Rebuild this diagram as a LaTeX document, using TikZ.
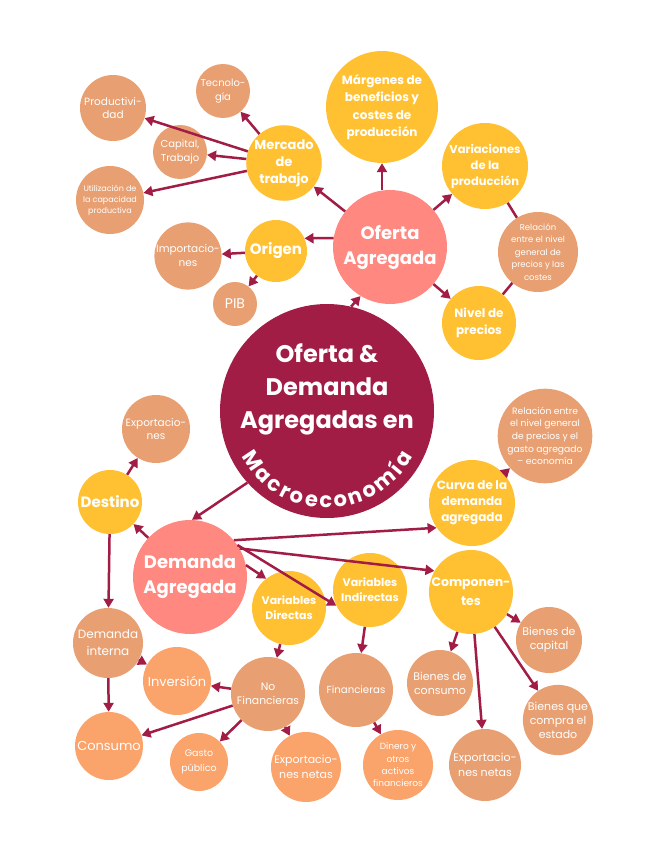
\documentclass[tikz,border=0pt]{standalone}
\usepackage{fontspec}
\setmainfont{Poppins}
\usepackage{xcolor}
\definecolor{vino}{HTML}{A11D45}
\definecolor{salmon}{HTML}{FF8880}
\definecolor{ambar}{HTML}{FFC132}
\definecolor{canela}{HTML}{E8A072}
\definecolor{melocoton}{HTML}{FAA36B}
\usetikzlibrary{arrows.meta, decorations.text}
\newcommand{\tam}[2]{\fontsize{#1}{#2}\selectfont}

\begin{document}
\begin{tikzpicture}[x=1pt, y=-1pt,
    bola/.style={circle, inner sep=0pt, align=center, text=white,
                 minimum size=2*#1},
    negrita/.style 2 args={font=\bfseries\tam{#1}{#2}},
    fina/.style 2 args={font=\tam{#1}{#2}},
    flecha/.style={draw=vino, line width=2.5pt,
                   -{Triangle[length=9pt, width=10pt]}},
    enlace/.style={draw=vino, line width=2.5pt}]
  \fill[white] (0,0) rectangle (655,848);
  \useasboundingbox (0,0) rectangle (655,848);

  % centro
  \node[bola=107, fill=vino] (principal) at (327,411) {};
  \node[align=center, text=white, negrita={24}{33}] (titulo)
    at ([yshift=22pt]principal.center) {Oferta \&\\Demanda\\Agregadas en};
  \path[decorate, decoration={text effects along path, text={Macroeconomía},
        text align=center, text effects/.cd, text along path,
        every character/.style={text=white, font=\bfseries\tam{21}{21}},
        character widths={font=\bfseries\tam{21}{21}, inner xsep=1.3pt}}]
    (principal.center) ++(155:97) arc[start angle=155, end angle=25, radius=97];

  % oferta
  \node[bola=57, fill=salmon, negrita={18}{25}] (oferta) at (390,247) {Oferta\\Agregada};
  \node[bola=56, fill=ambar, negrita={12}{17.5}] (margenes) at (382,107)
    {Márgenes de\\beneficios y\\costes de\\producción};
  \node[bola=43, fill=ambar, negrita={11.5}{16}] (variaciones) at (485,166)
    {Variaciones\\de la\\producción};
  \node[bola=40, fill=canela, fina={8.5}{12.6}] (relacionof) at (538,252)
    {Relación\\entre el nivel\\general de\\precios y las\\costes};
  \node[bola=37, fill=ambar, negrita={12}{17}] (nivel) at (479,323) {Nivel de\\precios};
  \node[bola=37, fill=ambar, negrita={13}{17}] (mercado) at (284,163) {Mercado\\de\\trabajo};
  \node[bola=27, fill=canela, fina={10}{13.5}] (tecnologia) at (223,91) {Tecnolo-\\gía};
  \node[bola=33, fill=canela, fina={10.5}{13.5}] (productividad) at (113,108) {Productivi-\\dad};
  \node[bola=27, fill=canela, fina={10}{13.5}] (capital) at (180,152) {Capital,\\Trabajo};
  \node[bola=34, fill=canela, fina={8}{11}] (utilizacion) at (110,200)
    {Utilización de\\la capacidad\\productiva};
  \node[bola=31, fill=ambar, negrita={15}{18}] (origen) at (276,251) {Origen};
  \node[bola=33, fill=canela, fina={10.5}{14}] (importaciones) at (188,256) {Importacio-\\nes};
  \node[bola=22, fill=canela, fina={14}{16}] (pib) at (235,304) {PIB};

  % demanda
  \node[bola=57, fill=salmon, negrita={18}{25}] (demanda) at (190,577) {Demanda\\Agregada};
  \node[bola=32, fill=ambar, negrita={15}{18}] (destino) at (110,502) {Destino};
  \node[bola=34, fill=canela, fina={10.5}{13.5}] (exportaciones) at (156,429) {Exportacio-\\nes};
  \node[bola=43, fill=ambar, negrita={12}{16}] (curva) at (472,503)
    {Curva de la\\demanda\\agregada};
  \node[bola=47, fill=canela, fina={9.2}{12.7}] (relaciondem) at (545,436)
    {Relación entre\\el nivel general\\de precios y el\\gasto agregado\\– economía};
  \node[bola=37, fill=ambar, negrita={11}{15}] (directas) at (289,608) {Variables\\Directas};
  \node[bola=37, fill=ambar, negrita={11}{15}] (indirectas) at (370,590) {Variables\\Indirectas};
  \node[bola=42, fill=ambar, negrita={12.5}{19}] (componentes) at (471,592) {Componen-\\tes};
  \node[bola=35, fill=canela, fina={12}{17}] (interna) at (108,643) {Demanda\\interna};
  \node[bola=34, fill=melocoton, fina={13}{16}] (inversion) at (177,681) {Inversión};
  \node[bola=34, fill=melocoton, fina={13}{16}] (consumo) at (109,746) {Consumo};
  \node[bola=37, fill=canela, fina={10.8}{14}] (nofinancieras) at (268,694) {No\\Financieras};
  \node[bola=29, fill=melocoton, fina={9.5}{15}] (gasto) at (199,762) {Gasto\\público};
  \node[bola=35, fill=melocoton, fina={11}{15}] (netasdir) at (306,767) {Exportacio-\\nes netas};
  \node[bola=37, fill=canela, fina={10.2}{14}] (financieras) at (356,690) {Financieras};
  \node[bola=35, fill=melocoton, fina={9}{12.3}] (dinero) at (398,765)
    {Dinero y\\otros\\activos\\financieros};
  \node[bola=33, fill=canela, fina={11}{14}] (bconsumo) at (440,683) {Bienes de\\consumo};
  \node[bola=33, fill=canela, fina={11}{14}] (bcapital) at (549,640) {Bienes de\\capital};
  \node[bola=35, fill=canela, fina={11}{14}] (bestado) at (558,720) {Bienes que\\compra el\\estado};
  \node[bola=36, fill=canela, fina={11}{15}] (netascomp) at (485,765) {Exportacio-\\nes netas};

  % conectores
  \draw[flecha] (principal.77) -- (oferta.239);
  \draw[flecha] (principal.222) -- (demanda.88);
  \draw[flecha] (oferta.north -| margenes.south) -- (margenes.south);
  \draw[flecha] (oferta) -- (variaciones);
  \draw[flecha] (oferta) -- (mercado);
  \draw[flecha] (oferta.171) -- (origen.24);
  \draw[flecha] (oferta) -- (nivel);
  \draw[enlace] (variaciones) -- (relacionof);
  \draw[enlace] (relacionof) -- (nivel);
  \draw[flecha] (mercado) -- (tecnologia);
  \draw[flecha] (mercado) -- (productividad);
  \draw[flecha] (mercado) -- (capital);
  \draw[flecha] (mercado) -- (utilizacion);
  \draw[flecha] (origen) -- (importaciones);
  \draw[flecha] (origen) -- (pib);

  \draw[flecha] (demanda) -- (destino);
  \draw[flecha] (destino) -- (exportaciones);
  \draw[flecha] (destino) -- (interna);
  \draw[flecha] (demanda.40) -- (curva.215);
  \draw[flecha] (curva) -- (relaciondem);
  \draw[flecha] (demanda.12) -- (directas.128);
  \draw[flecha] (demanda.34) -- (indirectas.205);
  \draw[flecha] (demanda.30) -- (componentes.150);
  \draw[flecha] (interna) -- (inversion);
  \draw[flecha] (interna) -- (consumo);
  \draw[flecha] (directas) -- (nofinancieras);
  \draw[flecha] (nofinancieras) -- (inversion);
  \draw[flecha] (nofinancieras) -- (consumo);
  \draw[flecha] (nofinancieras) -- (gasto);
  \draw[flecha] (nofinancieras) -- (netasdir);
  \draw[flecha] (indirectas) -- (financieras);
  \draw[flecha] (financieras) -- (dinero);
  \draw[flecha] (componentes) -- (bconsumo);
  \draw[flecha] (componentes) -- (bcapital);
  \draw[flecha] (componentes) -- (bestado);
  \draw[flecha] (componentes) -- (netascomp);
\end{tikzpicture}
\end{document}
